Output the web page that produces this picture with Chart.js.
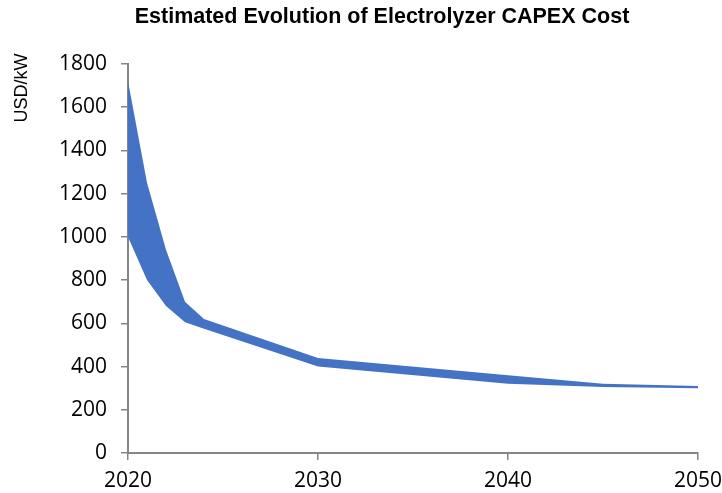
<!DOCTYPE html>
<html>
<head>
<meta charset="utf-8">
<script src="https://cdn.jsdelivr.net/npm/chart.js@4/dist/chart.umd.min.js"></script>
<style>
  html, body { margin: 0; padding: 0; background: #ffffff; }
  #wrap { width: 722px; height: 493px; }
</style>
</head>
<body>
<div id="wrap"><canvas id="c" width="722" height="493"></canvas></div>
<script>
// Estimated electrolyzer CAPEX range (USD/kW), low and high bounds per year
const years = [2020, 2021, 2022, 2023, 2024, 2030, 2040, 2045, 2050];
const capexHigh = [1720, 1250, 940, 700, 620, 440, 360, 320, 310];
const capexLow  = [1000, 800, 680, 605, 575, 400, 320, 305, 300];
const yTicks = [0, 200, 400, 600, 800, 1000, 1200, 1400, 1600, 1800];
const xTicks = [2020, 2030, 2040, 2050];

const chartTitle = 'Estimated Evolution of Electrolyzer CAPEX Cost';
const yTitle = 'USD/kW';

const bandColor = '#4472C4';
const axisColor = '#868686';
const tickFont = { family: '"Open Sans", sans-serif', size: 21 };

// Titles drawn straight onto the canvas at fixed spots
const titlesPlugin = {
  id: 'titles',
  afterDraw(chart) {
    const ctx = chart.ctx;
    ctx.save();
    ctx.fillStyle = '#000000';
    ctx.font = 'bold 21.5px "Liberation Sans", Arial, sans-serif';
    ctx.textAlign = 'center';
    ctx.textBaseline = 'middle';
    ctx.fillText(chartTitle, 382, 17);
    ctx.translate(22, 88);
    ctx.rotate(-Math.PI / 2);
    ctx.font = '18px "Liberation Sans", Arial, sans-serif';
    ctx.fillText(yTitle, 0, 0);
    ctx.restore();
  }
};

const toPoints = (vals) => years.map((x, i) => ({ x, y: vals[i] }));

new Chart(document.getElementById('c'), {
  type: 'line',
  data: {
    datasets: [
      {
        label: 'Low',
        data: toPoints(capexLow),
        borderWidth: 0,
        borderColor: bandColor,
        pointRadius: 0,
        fill: false,
        tension: 0
      },
      {
        label: 'High',
        data: toPoints(capexHigh),
        borderWidth: 0,
        borderColor: bandColor,
        backgroundColor: bandColor,
        pointRadius: 0,
        fill: '-1',
        tension: 0
      }
    ]
  },
  options: {
    responsive: false,
    animation: false,
    devicePixelRatio: 1,
    layout: { padding: { top: 64, right: 24, left: 0, bottom: 0 } },
    plugins: {
      legend: { display: false },
      tooltip: { enabled: false },
      title: { display: false }
    },
    scales: {
      x: {
        type: 'linear',
        min: 2020,
        max: 2050,
        afterBuildTicks(scale) { scale.ticks = xTicks.map(v => ({ value: v })); },
        ticks: { color: '#000000', font: tickFont, padding: 8, maxRotation: 0, callback: v => String(v) },
        grid: { display: true, drawOnChartArea: false, drawTicks: true, tickLength: 7, color: axisColor, lineWidth: 1.5 },
        border: { display: true, color: axisColor, width: 2 },
        afterFit(scale) { scale.height = 40; scale.paddingRight = 0; scale.paddingLeft = 0; }
      },
      y: {
        type: 'linear',
        min: 0,
        max: 1800,
        afterBuildTicks(scale) { scale.ticks = yTicks.map(v => ({ value: v })); },
        ticks: { color: '#000000', font: tickFont, padding: 14, callback: v => String(v) },
        grid: { display: true, drawOnChartArea: false, drawTicks: true, tickLength: 7, color: axisColor, lineWidth: 1.5 },
        border: { display: true, color: axisColor, width: 2 },
        afterFit(scale) { scale.width = 128; }
      }
    }
  },
  plugins: [titlesPlugin]
});
</script>
</body>
</html>
